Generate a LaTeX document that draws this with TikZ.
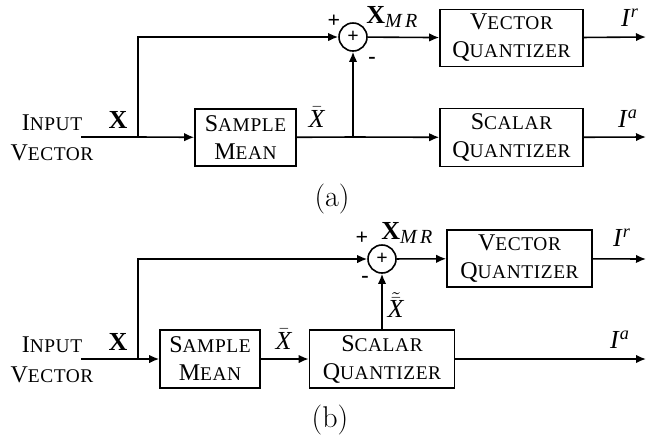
\documentclass[tikz,border=0pt]{standalone}
\usepackage{fontspec}
\setmainfont{Liberation Serif}
\newfontfamily\lmrfont{Latin Modern Roman}
\usetikzlibrary{arrows.meta}
\newcommand\sca[2]{#1{\fontsize{9.7}{10}\selectfont\addfontfeature{LetterSpace=3}#2}}
\newcommand\bX{\textbf{X}}
\newcommand\barX{$\bar{\mbox{\textit{X}}}$}
\newcommand\subMR{\raisebox{-0.35ex}{\fontsize{10}{10}\selectfont\textit{M\,R}}}
\begin{document}
\begin{tikzpicture}[x=0.5pt,y=-0.5pt,
  font=\fontsize{12}{14}\selectfont,
  blk/.style={draw, line width=0.8pt, align=center, inner sep=0pt},
  sumnode/.style={circle, draw, line width=0.8pt, minimum size=14pt, inner sep=0pt, font=\fontsize{10}{10}\selectfont\bfseries},
  sig/.style={-{Latex[length=5pt,width=4.2pt]}, line width=0.8pt},
  wire/.style={line width=0.8pt},
  lbl/.style={inner sep=0pt, font=\fontsize{13}{13}\selectfont},
  sgn/.style={inner sep=0pt, font=\fontsize{11}{11}\selectfont\bfseries},
  capt/.style={inner sep=0pt, font=\lmrfont\fontsize{15}{15}\selectfont}]
\useasboundingbox (0,0) rectangle (647,441);
% ---------- (a) ----------
\node[inner sep=0pt, align=center, font=\fontsize{12}{15}\selectfont] (ina) at (52,138) {\sca{I}{NPUT}\\\sca{V}{ECTOR}};
\node[blk, minimum width=50.5pt, minimum height=28.5pt] (sma) at (245.5,137.5) {\sca{S}{AMPLE}\\\sca{M}{EAN}};
\node[blk, minimum width=71.5pt, minimum height=29pt] (sqa) at (511.5,137.5) {\sca{S}{CALAR}\\\sca{Q}{UANTIZER}};
\node[blk, minimum width=71.5pt, minimum height=28.5pt] (vqa) at (511.5,38) {\sca{V}{ECTOR}\\\sca{Q}{UANTIZER}};
\node[sumnode] (suma) at (353,37) {+};
\coordinate (sa) at (81,137);
\coordinate (ba) at (138,137);
\coordinate (ta) at (138,37);
\coordinate (ma) at (353,137);
\coordinate (ora) at (646,37);
\coordinate (oaa) at (646,137);
\draw[wire] (sa) -- (ba);
\draw[sig] (ba) -- (sma);
\draw[sig] (ba) -- (ta) -- (suma);
\draw[wire] (sma) -- (ma);
\draw[sig] (ma) -- (sqa);
\draw[sig] (ma) -- (suma);
\draw[sig] (suma) -- (vqa);
\draw[sig] (vqa) -- (ora);
\draw[sig] (sqa) -- (oaa);
\node[lbl] (xa) at (118,120) {\bX};
\node[lbl] (xba) at (317,117) {\barX};
\node[sgn] (pa) at (334,21) {+};
\node[sgn] (na) at (372,60) {-};
\node[lbl, anchor=west] (xmra) at (366,17) {\bX\subMR};
\node[lbl] (ira) at (630,18) {\textit{I}\textsuperscript{\textit{r}}};
\node[lbl] (iaa) at (628,119) {\textit{I}\textsuperscript{\textit{a}}};
\node[capt] (capa) at (332,199) {(a)};
% ---------- (b) ----------
\node[inner sep=0pt, align=center, font=\fontsize{12}{15}\selectfont] (inb) at (52,360) {\sca{I}{NPUT}\\\sca{V}{ECTOR}};
\node[blk, minimum width=50pt, minimum height=29pt] (smb) at (210,359) {\sca{S}{AMPLE}\\\sca{M}{EAN}};
\node[blk, minimum width=72.5pt, minimum height=29pt] (sqb) at (382,359) {\sca{S}{CALAR}\\\sca{Q}{UANTIZER}};
\node[blk, minimum width=72.5pt, minimum height=28.5pt] (vqb) at (519.5,258.5) {\sca{V}{ECTOR}\\\sca{Q}{UANTIZER}};
\node[sumnode] (sumb) at (382,259) {+};
\coordinate (sb) at (81,359);
\coordinate (bb) at (138,359);
\coordinate (tb) at (138,259);
\coordinate (orb) at (646,259);
\coordinate (oab) at (646,359);
\draw[sig] (sb) -- (smb);
\draw[sig] (bb) -- (tb) -- (sumb);
\draw[sig] (smb) -- (sqb);
\draw[sig] (sqb) -- (sumb);
\draw[sig] (sumb) -- (vqb);
\draw[sig] (vqb) -- (orb);
\draw[sig] (sqb) -- (oab);
\node[lbl] (xb) at (118,342) {\bX};
\node[lbl] (xbb) at (284,339) {\barX};
\node[lbl] (xtb) at (396,305) {$\tilde{\bar{\mbox{\textit{X}}}}$};
\node[sgn] (pb) at (362,238) {+};
\node[sgn] (nb) at (365,279) {-};
\node[lbl, anchor=west] (xmrb) at (381,233) {\bX\subMR};
\node[lbl] (irb) at (622,238) {\textit{I}\textsuperscript{\textit{r}}};
\node[lbl] (iab) at (620,340) {\textit{I}\textsuperscript{\textit{a}}};
\node[capt] (capb) at (330,420) {(b)};
\end{tikzpicture}
\end{document}
